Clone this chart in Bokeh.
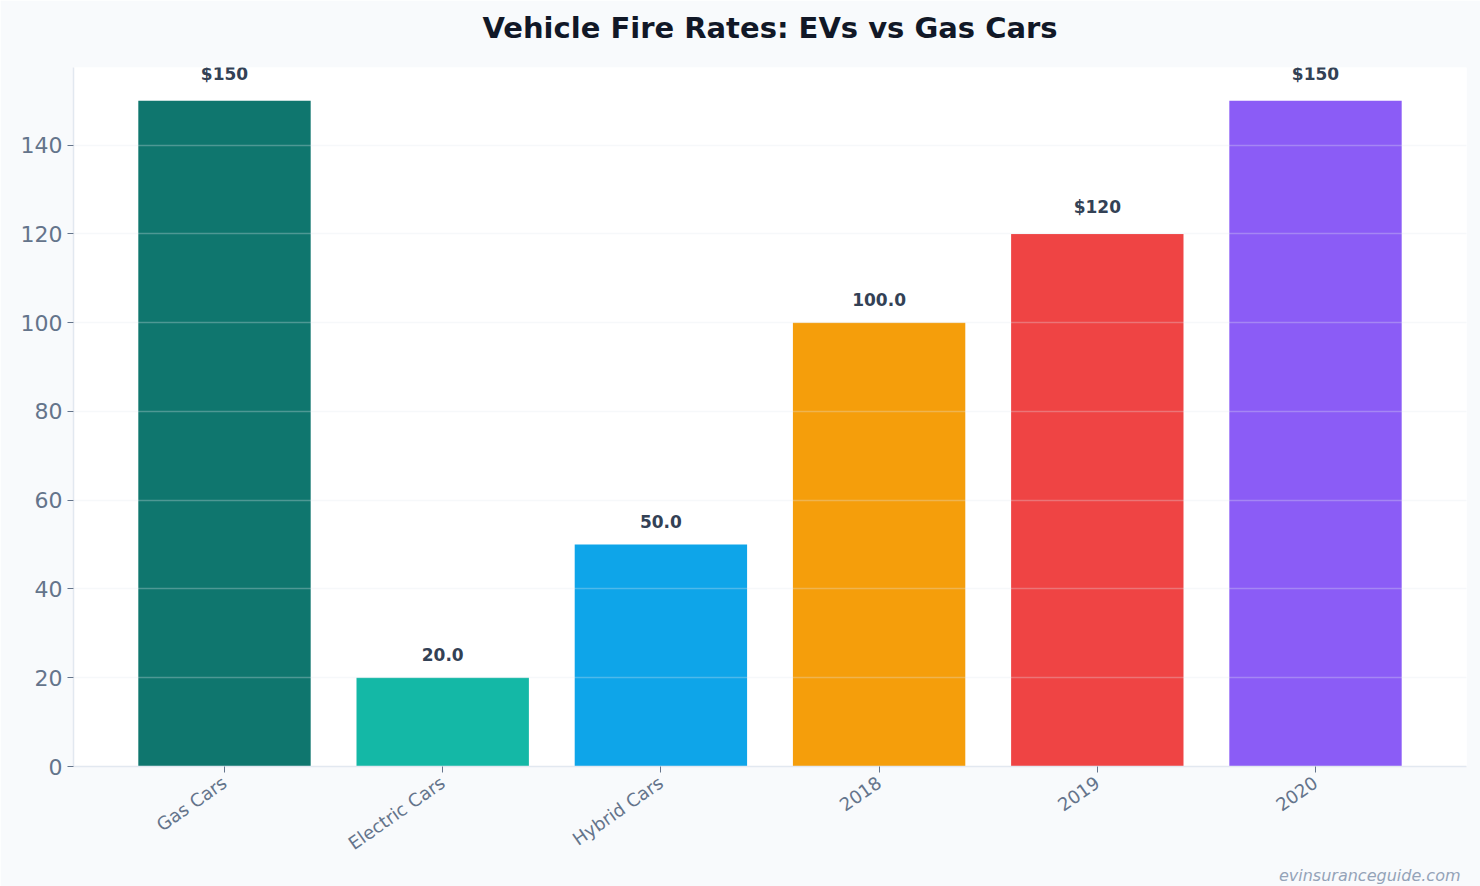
import math
from bokeh.plotting import figure
from bokeh.models import ColumnDataSource, LabelSet, Title, FactorRange
from bokeh.core.properties import value
from bokeh.embed import file_html
from bokeh.resources import INLINE

categories = ["Gas Cars", "Electric Cars", "Hybrid Cars", "2018", "2019", "2020"]
values = [150, 20, 50, 100, 120, 150]
value_labels = ["$150", "20.0", "50.0", "100.0", "$120", "$150"]
colors = ["#0f766e", "#14b8a6", "#0ea5e9", "#f59e0b", "#ef4444", "#8b5cf6"]
y_ticks = [0, 20, 40, 60, 80, 100, 120, 140]
title_text = "Vehicle Fire Rates: EVs vs Gas Cars"
watermark_text = "evinsuranceguide.com"

src = ColumnDataSource(dict(cat=categories, val=values, lab=value_labels, col=colors))

p = figure(
    width=1480, height=886,
    x_range=FactorRange(factors=categories, range_padding=0.192, range_padding_units="absolute"),
    y_range=(0, 157.5),
    output_backend="svg", toolbar_location=None,
    background_fill_color="white", border_fill_color="#f8fafc",
    min_border_left=73, min_border_right=14, min_border_top=67, min_border_bottom=120,
    outline_line_color=None,
)
p.title.text = ""

p.vbar(x="cat", top="val", width=0.79, fill_color="col", line_color=None, source=src)

labels = LabelSet(x="cat", y="val", text="lab", source=src, y_offset=17,
                  text_align="center", text_baseline="bottom",
                  text_font=value("DejaVu Sans"), text_font_style="bold",
                  text_font_size="17px", text_color="#334155")
p.add_layout(labels)

# spacer nearest the frame, then the real title above it
spacer = Title(text=" ", text_font_size="1px", standoff=20, text_color="#f8fafc")
p.add_layout(spacer, "above")
main_title = Title(text=title_text, align="center", vertical_align="bottom",
                   text_font="DejaVu Sans", text_font_size="29px", text_font_style="bold",
                   text_color="#111827", standoff=0)
p.add_layout(main_title, "above")

wm = Title(text=watermark_text, align="right", vertical_align="top", standoff=0, offset=6,
           text_font="DejaVu Sans", text_font_style="italic", text_font_size="16px",
           text_color="#94a3b8")
p.add_layout(wm, "below")

p.xgrid.grid_line_color = None
p.ygrid.grid_line_color = "#e2e8f0"
p.ygrid.grid_line_alpha = 0.3
p.ygrid.grid_line_width = 1.6
p.ygrid.level = "overlay"
p.yaxis.ticker = y_ticks

for ax in (p.xaxis[0], p.yaxis[0]):
    ax.axis_line_color = "#e2e8f0"
    ax.axis_line_width = 1.5
    ax.major_tick_line_color = "#64748b"
    ax.major_tick_in = 0
    ax.major_tick_out = 6
    ax.minor_tick_line_color = None
    ax.major_label_text_font = "DejaVu Sans"
    ax.major_label_text_color = "#64748b"

p.yaxis.major_label_text_font_size = "22px"
p.xaxis.major_label_text_font_size = "18px"
p.xaxis.major_label_orientation = math.radians(35)
p.xaxis.major_label_standoff = 8

open("out.html", "w").write(file_html(p, INLINE))
